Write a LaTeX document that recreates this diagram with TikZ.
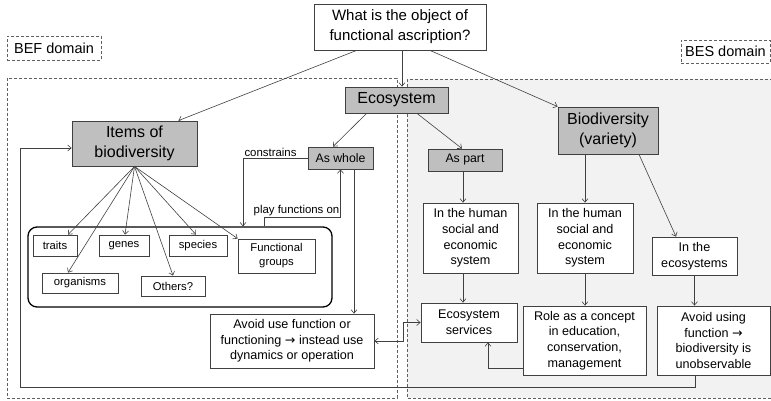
\documentclass[tikz,border=0pt]{standalone}
\usepackage{fontspec}
\setmainfont{Liberation Sans}
\newfontfamily\symf{DejaVu Sans}
\usetikzlibrary{arrows.meta}
\definecolor{boxgray}{HTML}{BFBFBF}
\definecolor{besfill}{HTML}{F2F2F2}
\definecolor{linec}{HTML}{404040}
\definecolor{dashc}{HTML}{606060}
\begin{document}
\begin{tikzpicture}[x=1pt,y=-1pt,
  box/.style={draw=linec, line width=0.8pt, fill=white, inner sep=0pt, align=center, text=black},
  gbox/.style={box, fill=boxgray},
  arr/.style={draw=linec, line width=0.6pt, -{Straight Barb[length=3.5pt,width=6pt]}},
  darr/.style={draw=linec, line width=0.6pt, {Straight Barb[length=3.5pt,width=6pt]}-{Straight Barb[length=3.5pt,width=6pt]}},
  dom/.style={draw=dashc, line width=0.7pt, dash pattern=on 3pt off 2pt},
  fbig/.style={font=\fontsize{16}{20}\selectfont},
  ftop/.style={font=\fontsize{15}{20}\selectfont},
  fmid/.style={font=\fontsize{12.6}{15.7}\selectfont},
  fsm/.style={font=\fontsize{11.3}{14}\selectfont},
  fdom/.style={font=\fontsize{14.5}{17}\selectfont},
  lab/.style={inner sep=0pt, text=black, font=\fontsize{11.4}{13}\selectfont}
]
\useasboundingbox (0,0) rectangle (771,400);
% domains
\path[dom, fill=besfill] (407,79) rectangle (771,398);
\path[dom] (7,78) rectangle (397,398);
\node[dom, fdom, inner sep=0pt, minimum width=94pt, minimum height=24pt] (bef) at (54,48) {BEF domain};
\node[dom, fdom, inner sep=0pt, minimum width=89pt, minimum height=23pt] (bes) at (725.5,51.5) {BES domain};
% nodes
\node[box, ftop, minimum width=172pt, minimum height=46pt] (top) at (400,27) {What is the object of\\functional ascription?};
\node[gbox, fbig, minimum width=103pt, minimum height=26pt] (eco) at (396.5,100) {Ecosystem};
\node[gbox, fbig, minimum width=125pt, minimum height=45pt] (items) at (134.5,143.5) {Items of\\biodiversity};
\node[gbox, font=\fontsize{12.3}{14}\selectfont, minimum width=65pt, minimum height=22pt] (whole) at (340.5,158) {As whole};
\node[gbox, font=\fontsize{12.3}{14}\selectfont, minimum width=74pt, minimum height=22pt] (part) at (465,160) {As part};
\node[gbox, fbig, minimum width=100pt, minimum height=47pt] (bio) at (608,130.5) {Biodiversity\\(variety)};
\node[draw=black, line width=1.3pt, rounded corners=9pt, inner sep=0pt, minimum width=304pt, minimum height=80pt] (grp) at (180,267) {};
\node[box, fsm, minimum width=44pt, minimum height=21pt] (traits) at (55,245.5) {traits};
\node[box, fsm, minimum width=50pt, minimum height=21pt] (genes) at (124,245.5) {genes};
\node[box, fsm, minimum width=58pt, minimum height=21pt] (species) at (198,245.5) {species};
\node[box, fsm, minimum width=77pt, minimum height=34pt] (fg) at (276.5,256) {Functional\\groups};
\node[box, fsm, minimum width=76pt, minimum height=20pt] (org) at (80,283) {organisms};
\node[box, fsm, minimum width=64pt, minimum height=20pt] (oth) at (173,286) {Others?};
\node[box, fmid, minimum width=164pt, minimum height=54pt] (av1) at (292,341) {Avoid use function or\\functioning {\symf →} instead use\\dynamics or operation};
\node[box, fmid, minimum width=95pt, minimum height=70pt] (hum1) at (470.5,238) {In the human\\social and\\economic\\system};
\node[box, fmid, minimum width=96pt, minimum height=70pt] (hum2) at (585,238) {In the human\\social and\\economic\\system};
\node[box, fmid, minimum width=85pt, minimum height=38pt] (ineco) at (694.5,256) {In the\\ecosystems};
\node[box, fmid, minimum width=96pt, minimum height=39pt] (es) at (469,322.5) {Ecosystem\\services};
\node[box, fmid, minimum width=123pt, minimum height=69pt] (role) at (584.5,340.5) {Role as a concept\\in education,\\conservation,\\management};
\node[box, fmid, minimum width=113pt, minimum height=69pt] (av2) at (713.5,340.5) {Avoid using\\function {\symf →}\\biodiversity is\\unobservable};
% labels
\node[lab] (lc) at (270.5,152) {constrains};
\node[lab] (lp) at (296.5,211) {play functions on};
\coordinate (fb) at (20,387);
% connectors
\draw[arr] ([xshift=43pt]top.south west) -- ([xshift=-19pt]items.north east);
\draw[arr] ([xshift=2pt]top.south) -- ([xshift=2pt]top.south |- eco.north);
\draw[arr] ([xshift=30pt]top.south) -- (bio.north west);
\draw[arr] ([xshift=22pt]eco.south west) -- ([xshift=-7.5pt]whole.north);
\draw[arr] ([xshift=20.5pt]eco.south) -- ([xshift=-3pt]part.north);
\draw[arr] (items.south) -- ([xshift=13pt]traits.north);
\draw[arr] (items.south) -- ([xshift=1pt]genes.north);
\draw[arr] (items.south) -- ([xshift=-2pt]species.north);
\draw[arr] (items.south) -- (fg.north west);
\draw[arr] (items.south) -- ([xshift=-12pt]org.north);
\draw[arr] (items.south) -- (oth.north);
\draw[arr] (whole.west) -| ([xshift=63pt]grp.north);
\draw[arr] ([xshift=84pt]grp.north) -- ++(0,-9) -| (whole.south);
\draw[arr] ([xshift=13.5pt]whole.south) -- ([xshift=13.5pt]whole.south |- av1.north);
\draw[darr] (av1.east) -- ++(29,0) |- (es.west);
\draw[arr] ([xshift=-2pt]part.south) -- ([xshift=-2pt]part.south |- hum1.north);
\draw[arr] ([xshift=-7.5pt]hum1.south) -- ([xshift=-7.5pt]hum1.south |- es.north);
\draw[arr] ([xshift=-23pt]bio.south) -- (hum2.north);
\draw[arr] ([xshift=31pt]bio.south) -- ([xshift=-18.5pt]ineco.north);
\draw[arr] (hum2.south) -- (hum2.south |- role.north);
\draw[arr] (ineco.south) -- (ineco.south |- av2.north);
\draw[arr] ([yshift=-27.5pt]role.west) -| ([xshift=19pt]es.south);
\draw[arr] ([xshift=-18.5pt]av2.south) |- (fb) |- ([yshift=-4.5pt]items.west);
\end{tikzpicture}
\end{document}
